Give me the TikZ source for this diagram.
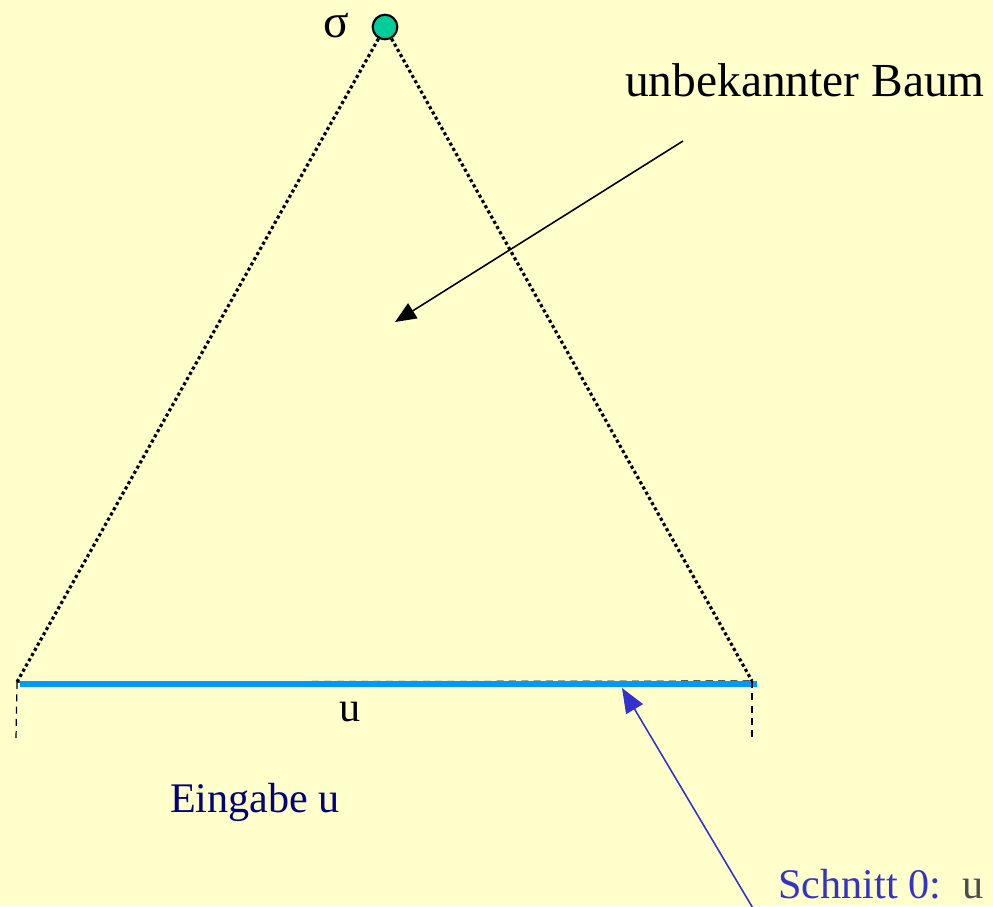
\documentclass[tikz,border=0pt]{standalone}
\usepackage{fontspec}
\setmainfont{Liberation Serif}
\usetikzlibrary{arrows.meta}
\definecolor{bg}{RGB}{255,255,204}
\definecolor{teal}{RGB}{0,204,153}
\definecolor{baseblue}{RGB}{0,153,255}
\definecolor{navy}{RGB}{0,0,128}
\definecolor{cutblue}{RGB}{51,51,204}
\definecolor{greyu}{RGB}{77,77,77}
\tikzset{
  treeedge/.style={line width=1.8pt, dash pattern=on 1.8pt off 1.6pt},
  guide/.style={line width=0.7pt, dash pattern=on 4pt off 3pt},
  lbl/.style={inner sep=0pt, font=\fontsize{27}{30}\selectfont},
  lblsm/.style={inner sep=0pt, font=\fontsize{24}{28}\selectfont},
}
\begin{document}
\begin{tikzpicture}[x=0.02cm,y=-0.02cm]
\fill[bg] (0,0) rectangle (993,906);
\useasboundingbox (0,0) rectangle (993,906);
\begin{scope}
\clip (0,0) rectangle (993,906);
\coordinate (L) at (17,682);
\coordinate (R) at (752,681);
\coordinate (Lb) at (16,740);
\coordinate (Rb) at (752,740);
\coordinate (bs) at (20,684);
\coordinate (be) at (757,684);
\coordinate (tgt) at (395,322);
\coordinate (src) at (683,141);
\coordinate (cutsrc) at (757,915);
\coordinate (cuttgt) at (622,688);
\node[circle, draw=black, line width=1.2pt, fill=teal, minimum size=14pt, inner sep=0pt] (root) at (385,27) {};
\draw[treeedge] (root) -- (L);
\draw[treeedge] (root) -- (R);
\draw[guide] (L) -- (R);
\draw[baseblue, line width=3pt] (bs) -- (be);
\draw[guide] (L) -- (Lb);
\draw[guide] (R) -- (Rb);
\node[lbl] (sigma) at (336,26) {σ};
\node[lbl] (title) at (805,80) {unbekannter Baum};
\draw[line width=0.9pt, -{Triangle[length=12pt,width=10pt]}] (src) -- (tgt);
\node[lblsm] (ulab) at (350,712) {u};
\node[lblsm, text=navy] (eingabe) at (255,802) {Eingabe u};
\node[lblsm, text=cutblue, anchor=west] (cut) at (778,884) {Schnitt 0:\ \ \textcolor{greyu}{u}};
\draw[cutblue, line width=0.9pt, -{Triangle[length=14pt,width=11pt]}] (cutsrc) -- (cuttgt);
\end{scope}
\end{tikzpicture}
\end{document}
